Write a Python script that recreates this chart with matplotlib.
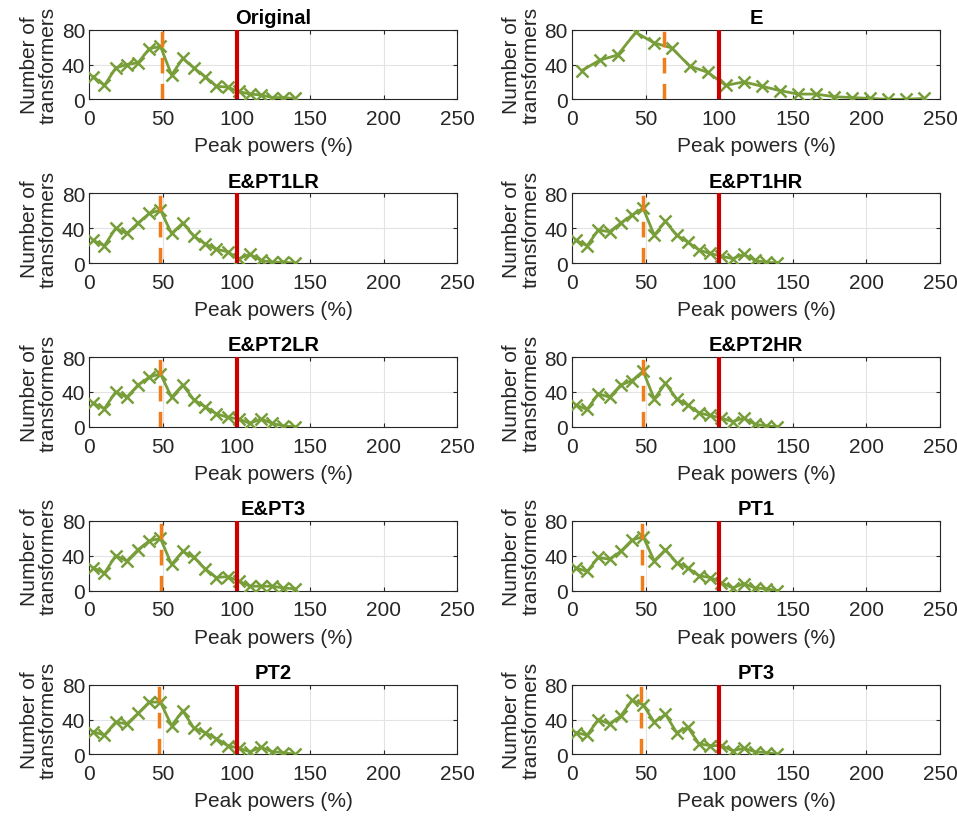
import matplotlib as mpl
mpl.use("agg")
import matplotlib.pyplot as plt
import numpy as np

plt.rcParams["font.family"] = ["Liberation Sans", "DejaVu Sans"]

# bin centres (%)
x_bins = [2.7 + 7.6 * i for i in range(19)]
x_bins_E = [6.6 + 12.24 * i for i in range(20)]

titles = ["Original", "E", "E&PT1LR", "E&PT1HR", "E&PT2LR",
          "E&PT2HR", "E&PT3", "PT1", "PT2", "PT3"]

counts = {
    "Original": [26, 16, 36, 40, 42, 58, 61, 28, 47, 36, 26, 15, 14, 9, 6, 5, 2, 2, 1],
    "E":        [33, 45, 51, 77, 65, 59, 38, 31, 16, 20, 15, 10, 6, 6, 3, 2, 1, 0, 0, 1],
    "E&PT1LR":  [26, 20, 40, 34, 46, 57, 61, 34, 46, 31, 22, 16, 13, 5, 10, 3, 1, 1, 0],
    "E&PT1HR":  [26, 20, 38, 36, 46, 55, 63, 32, 48, 32, 24, 15, 11, 8, 5, 10, 3, 1, 0],
    "E&PT2LR":  [27, 21, 40, 34, 48, 57, 61, 34, 48, 31, 23, 15, 11, 9, 4, 9, 4, 1, 0],
    "E&PT2HR":  [25, 20, 38, 34, 48, 53, 64, 32, 50, 32, 25, 16, 13, 10, 6, 10, 3, 1, 0],
    "E&PT3":    [26, 20, 40, 34, 47, 57, 60, 30, 45, 38, 25, 15, 16, 11, 5, 5, 5, 3, 2],
    "PT1":      [26, 22, 38, 36, 45, 58, 62, 34, 47, 32, 26, 17, 15, 9, 3, 8, 3, 2, 0],
    "PT2":      [26, 22, 37, 35, 47, 60, 60, 33, 50, 30, 25, 18, 10, 7, 3, 8, 3, 2, 0],
    "PT3":      [25, 22, 40, 35, 44, 62, 57, 37, 46, 25, 31, 12, 10, 10, 4, 7, 3, 2, 0],
}

# mean peak power (orange dashed) per case
mean_peak = {"Original": 49.5, "E": 62.8, "E&PT1LR": 48.3, "E&PT1HR": 48.1,
             "E&PT2LR": 48.3, "E&PT2HR": 48.1, "E&PT3": 48.5, "PT1": 47.6,
             "PT2": 47.2, "PT3": 46.9}
rated = 100

green = "#789E3A"
orange = "#F07D1A"
red = "#CC0000"
txt = "#262626"

fig = plt.figure(figsize=(9.57, 8.2), dpi=100)
W, H = 957.0, 820.0
lefts = [89.3, 572.0]
ax_w = 368.0
ax_h = 69.6
bottoms = [100.3 + 163.75 * r for r in range(5)]

for k, name in enumerate(titles):
    row, col = k // 2, k % 2
    ax = fig.add_axes([lefts[col] / W, 1 - bottoms[row] / H, ax_w / W, ax_h / H])
    xs = x_bins_E if name == "E" else x_bins
    ax.plot(xs, counts[name], color=green, lw=2, marker="x", ms=9, mew=1.8, zorder=3)
    ax.axvline(mean_peak[name], color=orange, lw=2.5, ls=(0, (4.5, 3)), zorder=4)
    ax.axvline(rated, color=red, lw=3, zorder=4)
    ax.set_xlim(0, 250)
    ax.set_ylim(0, 80)
    ax.set_xticks([0, 50, 100, 150, 200, 250])
    ax.set_yticks([0, 40, 80])
    ax.grid(True, color="#E3E3E3", lw=0.8)
    ax.set_axisbelow(True)
    for s in ax.spines.values():
        s.set_color(txt)
        s.set_linewidth(0.8)
    ax.tick_params(labelsize=15, length=3, direction="in", colors=txt,
                   top=True, right=True, pad=3)
    ax.tick_params(axis="x", pad=7)
    ax.set_title(name, fontsize=14.5, fontweight="bold", pad=5)
    ax.set_xlabel("Peak powers (%)", fontsize=15, color=txt, labelpad=6)
    ax.set_ylabel("Number of\ntransformers", fontsize=15, color=txt,
                  linespacing=1.0, labelpad=3)

fig.savefig("out.png", dpi=100)
